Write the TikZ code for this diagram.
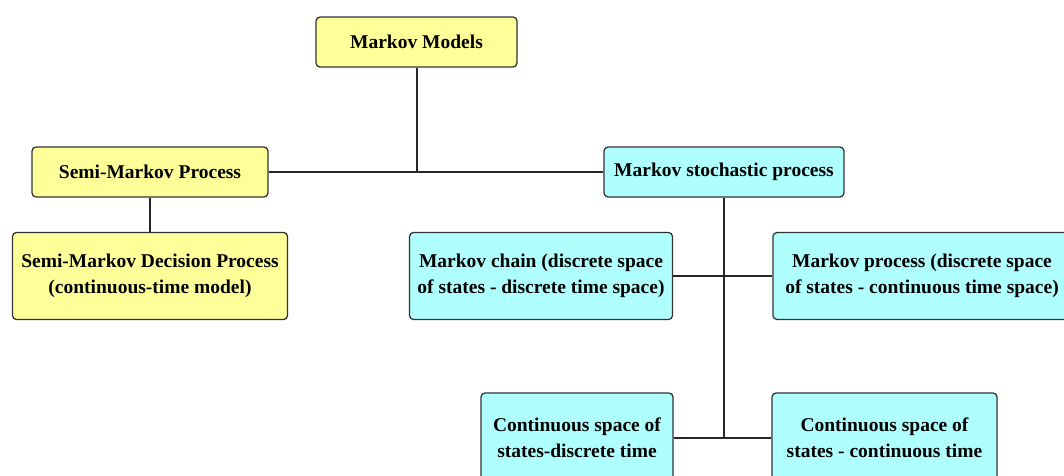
\documentclass[tikz,border=0pt]{standalone}
\usepackage{fontspec}
\setmainfont{Liberation Serif}
\definecolor{paleyellow}{RGB}{255,255,153}
\definecolor{palecyan}{RGB}{175,255,255}
\begin{document}
\begin{tikzpicture}[x=1pt, y=-1pt,
	box/.style={draw=black!80, line width=1.3pt, rounded corners=4pt, align=center, inner sep=0pt, font=\bfseries\fontsize{19.5}{26}\selectfont},
	yellowbox/.style={box, fill=paleyellow},
	cyanbox/.style={box, fill=palecyan},
	link/.style={draw=black!85, line width=1.4pt}]
	\useasboundingbox (0, 0) rectangle (1064, 475);
	\clip (0, 0) rectangle (1064, 475);
	
	\node [yellowbox, minimum width=201pt, minimum height=50pt] (models) at (416.5, 42) {Markov Models};
	\node [yellowbox, minimum width=236pt, minimum height=50pt] (semi) at (150, 172) {Semi-Markov Process};
	\node [yellowbox, minimum width=275pt, minimum height=87pt] (semidec) at (150, 276) {Semi-Markov Decision Process\\(continuous-time model)};
	
	\node [cyanbox, minimum width=240pt, minimum height=50pt] (stoch) at (724, 172) {Markov stochastic process};
	\node [cyanbox, minimum width=263pt, minimum height=87pt] (chain) at (541, 276) {Markov chain (discrete space\\of states - discrete time space)};
	\node [cyanbox, minimum width=298pt, minimum height=87pt] (proc) at (922, 276) {Markov process (discrete space\\of states - continuous time space)};
	\node [cyanbox, minimum width=192pt, minimum height=90pt] (contdisc) at (577, 438) {Continuous space of\\states-discrete time};
	\node [cyanbox, minimum width=225pt, minimum height=90pt] (contcont) at (884.5, 438) {Continuous space of\\states - continuous time};
	
	\coordinate (top) at (416.5, 172);
	\coordinate (bottom) at (724, 438);
	
	\draw [link, line width=2pt] (models) to (top);
	\draw [link] (semi) to (stoch);
	\draw [link] (semi) to (semidec);
	\draw [link] (stoch) to (bottom);
	\draw [link] (chain) to (proc);
	\draw [link] (contdisc) to (contcont);
\end{tikzpicture}
\end{document}
